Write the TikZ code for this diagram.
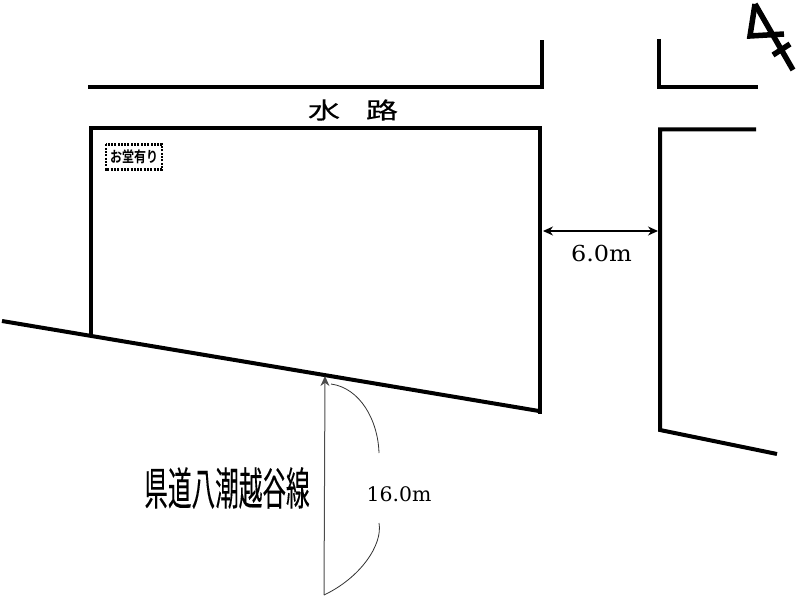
\documentclass[tikz,border=0pt]{standalone}
\usepackage{fontspec}
\setmainfont{DejaVu Serif}
\newfontfamily\cjk{Noto Sans CJK JP}[FakeBold=0.25]
\newfontfamily\cjkb{Noto Sans CJK JP Bold}
\usetikzlibrary{arrows.meta}
\tikzset{
  wall/.style={line width=4pt,line cap=butt,line join=miter},
  thin line/.style={line width=1pt,draw=black!70},
  arc line/.style={line width=0.8pt,draw=black!80},
  north mark/.style={line width=5.5pt,line join=miter},
  dim/.style={line width=1.2pt,{Stealth[length=10pt,width=9pt]}-{Stealth[length=10pt,width=9pt]}},
  label/.style={inner sep=0pt,text=black}
}
\begin{document}
\begin{tikzpicture}[x=1pt,y=-1pt]
\useasboundingbox (0,0) rectangle (796,596);
% upper canal bank
\draw[wall] (88,87) -- (541.5,87) -- (541.5,40);
\draw[wall] (659,39) -- (659,87) -- (758,87);
% plot
\draw[wall] (90.5,335) -- (90.5,128.5) -- (540,128.5) -- (540,414);
% roads
\draw[wall] (2,321) -- (539,411);
\draw[wall] (756,129.5) -- (660,129.5) -- (660,430) -- (777,454);
% north mark
\draw[north mark] (755,4) -- (750,36) -- (784,34);
\draw[north mark] (755,4) -- (793,70);
\draw[north mark] (773,55) -- (790,44);
% labels
\node[label,font=\cjk\fontsize{23}{23}\selectfont] (canal) at (353,110) {\scalebox{1.4}[1]{水\hspace{0.8em}路}};
\node[label,font=\cjkb\fontsize{15}{15}\selectfont] (shrine) at (134,157) {\scalebox{0.8}[1]{お堂有り}};
\draw[line width=2.2pt,dash pattern=on 2pt off 1.3pt] (106,144.5) rectangle (162,169.5);
\node[label,font=\fontsize{22}{22}\selectfont] (w) at (601.5,253) {\scalebox{1.09}[1]{6.0m}};
\node[label,font=\fontsize{20}{20}\selectfont] (l) at (399,494) {\scalebox{1.02}[1]{16.0m}};
\node[label,font=\cjk\fontsize{45}{45}\selectfont] (road) at (227,488) {\scalebox{0.525}[1]{県道八潮越谷線}};
% dimensions
\coordinate (wa) at (543,231);
\coordinate (wb) at (658,231);
\draw[dim] (wa) -- (wb);
\coordinate (la) at (325,376);
\coordinate (lb) at (324,595);
\draw[thin line,-{Stealth[length=10pt,width=9pt]}] (lb) -- (la);
\draw[arc line] (331,384) .. controls (360,388) and (378,420) .. (379,453);
\draw[arc line] (379,523) .. controls (383,545) and (360,578) .. (lb);
\end{tikzpicture}
\end{document}
